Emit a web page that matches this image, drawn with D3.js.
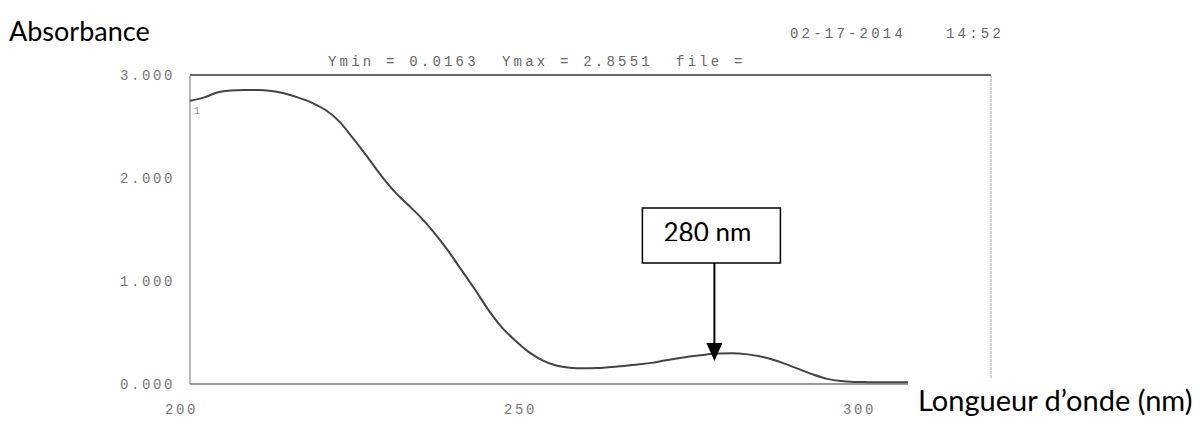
<!DOCTYPE html>
<html>
<head>
<meta charset="utf-8">
<script src="https://cdn.jsdelivr.net/npm/d3@7"></script>
<style>
  html, body { margin: 0; padding: 0; background: #fff; }
  svg { display: block; }
</style>
</head>
<body>
<svg id="chart" width="1200" height="425"></svg>
<script>
// UV absorbance spectrum (nm, absorbance)
const wavelengths = [200, 202, 204, 206, 208, 210, 212, 214, 216, 218, 220, 222, 224, 226, 228, 230,
  232, 234, 236, 238, 240, 242, 244, 246, 248, 250, 252, 254, 256, 258, 260, 262, 264, 266, 268, 270,
  272, 274, 276, 278, 280, 282, 284, 286, 288, 290, 292, 294, 296, 298, 300, 302, 304, 306];
const absorbance = [2.75, 2.78, 2.83, 2.85, 2.855, 2.855, 2.845, 2.82, 2.78, 2.73, 2.66, 2.55, 2.39, 2.22, 2.04, 1.88,
  1.75, 1.62, 1.47, 1.30, 1.11, 0.92, 0.72, 0.55, 0.42, 0.31, 0.23, 0.18, 0.158, 0.152, 0.155, 0.165, 0.175, 0.19, 0.205, 0.228,
  0.25, 0.27, 0.285, 0.296, 0.298, 0.29, 0.27, 0.235, 0.19, 0.14, 0.09, 0.05, 0.028, 0.02, 0.018, 0.0165, 0.0163, 0.0163];
const yTicks = [0, 1, 2, 3];
const xTicks = [200, 250, 300];
const peakWavelength = 280;
const peakLabel = "280 nm";
const headerText = "Ymin = 0.0163  Ymax = 2.8551  file =";
const dateText = "02-17-2014";
const timeText = "14:52";

const svg = d3.select("#chart");

const x = d3.scaleLinear().domain([200, 300]).range([190, 868]);
const y = d3.scaleLinear().domain([0, 3]).range([384, 75]);
const xRight = 991;

const mono = "'Liberation Mono', 'DejaVu Sans Mono', monospace";
const sans = "Lato, 'Open Sans', sans-serif";
const printGray = "#777";

const defs = svg.append("defs");
defs.append("clipPath").attr("id", "pageclip")
  .append("rect").attr("x", 0).attr("y", 0).attr("width", 1000).attr("height", 425);

// Plot frame
svg.append("line").attr("x1", x(200)).attr("x2", xRight).attr("y1", y(3)).attr("y2", y(3))
  .attr("stroke", "#666").attr("stroke-width", 1.8);
svg.append("line").attr("x1", x(200)).attr("x2", x(200)).attr("y1", y(3)).attr("y2", y(0))
  .attr("stroke", "#888").attr("stroke-width", 1.2);
svg.append("line").attr("x1", xRight).attr("x2", xRight).attr("y1", y(3)).attr("y2", y(0))
  .attr("stroke", "#aaa").attr("stroke-width", 1).attr("stroke-dasharray", "3,1");

// Axes built from scales
const yAxis = d3.axisLeft(y).tickValues(yTicks).tickFormat(d3.format(".3f")).tickSize(0).tickPadding(15);
const gy = svg.append("g").attr("transform", `translate(${x(200)},0)`).call(yAxis);
gy.select(".domain").remove();
gy.selectAll("text").attr("font-family", mono).attr("font-size", 14).attr("letter-spacing", 2.6)
  .attr("fill", printGray);

const xAxis = d3.axisBottom(x).tickValues(xTicks).tickFormat(d3.format("d")).tickSize(0).tickPadding(20);
const gx = svg.append("g").attr("transform", `translate(0,${y(0)})`).call(xAxis);
gx.select(".domain").attr("d", `M${x(200)},0H${xRight}`).attr("stroke", "#777").attr("stroke-width", 1.5);
gx.selectAll("text").attr("font-family", mono).attr("font-size", 14).attr("letter-spacing", 2.6)
  .attr("fill", printGray).attr("dx", -9);

// Spectrum trace
const line = d3.line().x((d, i) => x(wavelengths[i])).y(d => y(d)).curve(d3.curveMonotoneX);
svg.append("path").datum(absorbance).attr("d", line)
  .attr("fill", "none").attr("stroke", "#444").attr("stroke-width", 2);

// Trace number
svg.append("text").attr("x", x(200) + 4).attr("y", y(absorbance[0]) + 13)
  .attr("font-family", mono).attr("font-size", 10).attr("fill", "#888").text("1");

// Header lines
svg.append("text").attr("x", 328).attr("y", 66).attr("font-family", mono).attr("font-size", 14)
  .attr("letter-spacing", 3.2).attr("fill", "#666").style("white-space", "pre").text(headerText);
const stamp = svg.append("g").attr("clip-path", "url(#pageclip)");
stamp.append("text").attr("x", 790).attr("y", 38).attr("font-family", mono).attr("font-size", 14)
  .attr("letter-spacing", 3.2).attr("fill", "#666").text(dateText);
stamp.append("text").attr("x", 946).attr("y", 38).attr("font-family", mono).attr("font-size", 14)
  .attr("letter-spacing", 3.2).attr("fill", "#666").text(timeText);

// Axis titles
svg.append("text").attr("x", 9).attr("y", 41).attr("font-family", sans).attr("font-size", 27)
  .attr("fill", "#000").text("Absorbance");
svg.append("rect").attr("x", 908).attr("y", 379).attr("width", 292).attr("height", 46).attr("fill", "#fff");
svg.append("text").attr("x", 918).attr("y", 411).attr("font-family", sans).attr("font-size", 29)
  .attr("fill", "#000").text("Longueur d\u2019onde (nm)");

// Peak annotation: box with a downward arrow towards the 280 nm band
const px = x(peakWavelength) - 18;
const boxW = 138, boxH = 55, boxTop = 208;
defs.append("clipPath").attr("id", "boxclip")
  .append("rect").attr("x", px - boxW / 2 - 3).attr("y", boxTop).attr("width", boxW).attr("height", 33);
svg.append("rect").attr("x", px - boxW / 2 - 3).attr("y", boxTop).attr("width", boxW).attr("height", boxH)
  .attr("fill", "#fff").attr("stroke", "#000").attr("stroke-width", 1.5);
svg.append("text").attr("x", px - 7).attr("y", boxTop + 34).attr("text-anchor", "middle")
  .attr("clip-path", "url(#boxclip)")
  .attr("font-family", sans).attr("font-size", 26).attr("fill", "#000").text(peakLabel);
svg.append("line").attr("x1", px).attr("x2", px).attr("y1", boxTop + boxH).attr("y2", 345)
  .attr("stroke", "#000").attr("stroke-width", 2);
svg.append("path").attr("d", `M${px - 8},343L${px + 8},343L${px},361Z`).attr("fill", "#000");
</script>
</body>
</html>
